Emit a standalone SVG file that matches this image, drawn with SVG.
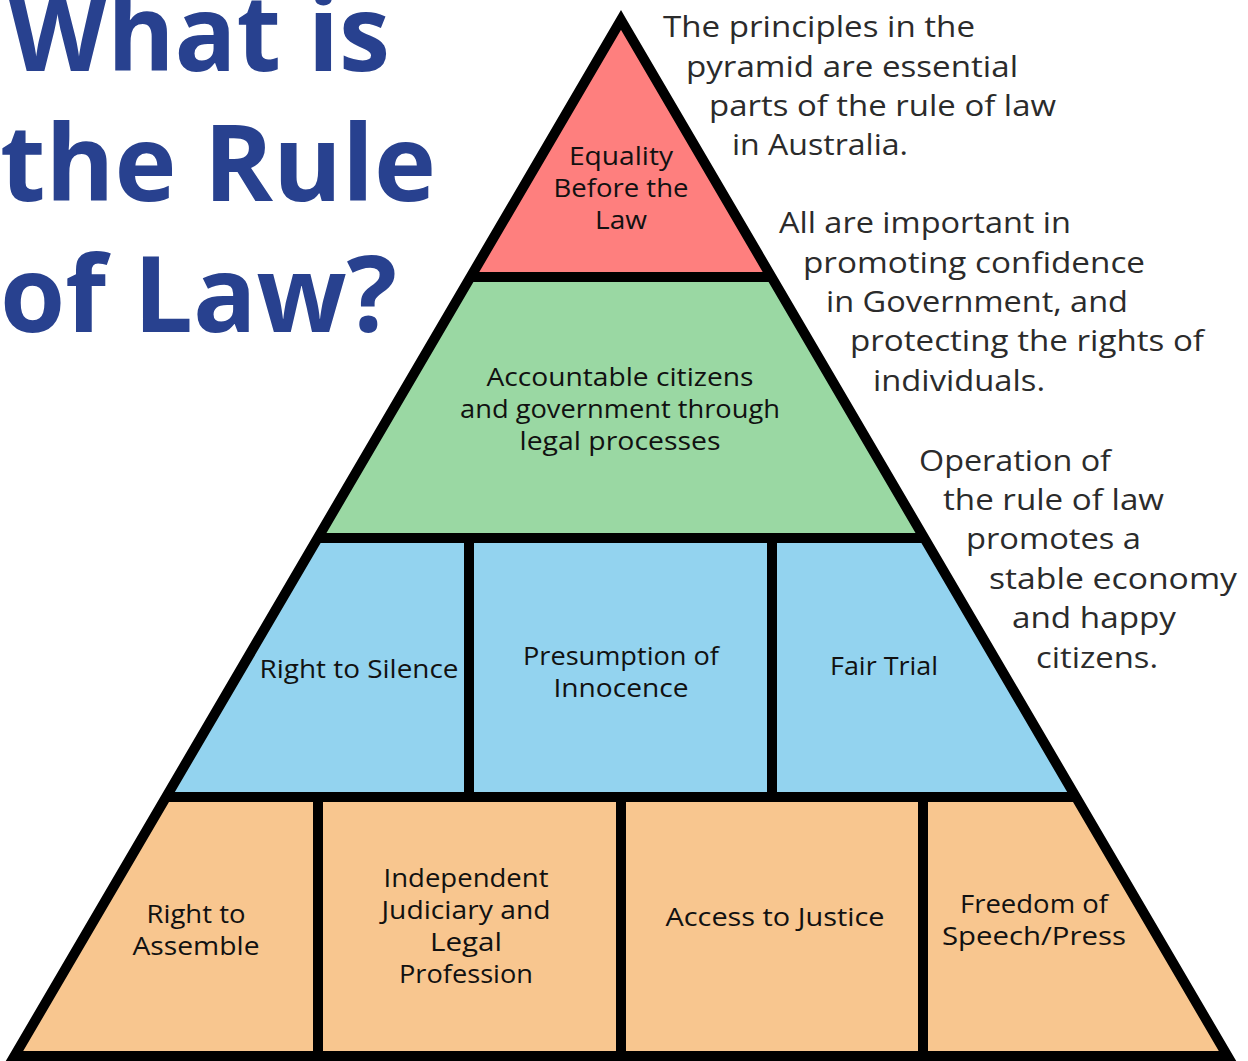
<svg xmlns="http://www.w3.org/2000/svg" width="1248" height="1061" viewBox="0 0 1248 1061">
<style>
.title{font-family:"Open Sans","Noto Sans",sans-serif;font-weight:700;font-size:106px;fill:#28418F}
.note{font-family:"Open Sans","Noto Sans",sans-serif;font-weight:400;font-size:30px;fill:#2b2b2b}
.lbl{font-family:"Open Sans","Noto Sans",sans-serif;font-weight:500;font-size:25px;fill:#111;text-anchor:middle}
.red{fill:#FE7F7E}.green{fill:#9AD8A3}.blue{fill:#93D3EF}.orange{fill:#F8C68F}
.frame{fill:none;stroke:#000;stroke-width:10;stroke-linejoin:miter}
</style>
<rect width="1248" height="1061" fill="#fff"/>
<g id="title">
<text class="title" x="8" y="71" textLength="382" lengthAdjust="spacingAndGlyphs">What is</text>
<text class="title" x="0" y="201" textLength="436" lengthAdjust="spacingAndGlyphs">the Rule</text>
<text class="title" x="0" y="332" textLength="397" lengthAdjust="spacingAndGlyphs">of Law?</text>
</g>
<g id="note1">
<text class="note" x="663" y="37" textLength="312" lengthAdjust="spacingAndGlyphs">The principles in the</text>
<text class="note" x="686" y="77" textLength="332" lengthAdjust="spacingAndGlyphs">pyramid are essential</text>
<text class="note" x="709" y="116" textLength="347" lengthAdjust="spacingAndGlyphs">parts of the rule of law</text>
<text class="note" x="732" y="155" textLength="176" lengthAdjust="spacingAndGlyphs">in Australia.</text>
</g>
<g id="note2">
<text class="note" x="779" y="233" textLength="292" lengthAdjust="spacingAndGlyphs">All are important in</text>
<text class="note" x="803" y="273" textLength="342" lengthAdjust="spacingAndGlyphs">promoting confidence</text>
<text class="note" x="826" y="312" textLength="302" lengthAdjust="spacingAndGlyphs">in Government, and</text>
<text class="note" x="850" y="351" textLength="354" lengthAdjust="spacingAndGlyphs">protecting the rights of</text>
<text class="note" x="873" y="391" textLength="172" lengthAdjust="spacingAndGlyphs">individuals.</text>
</g>
<g id="note3">
<text class="note" x="919" y="471" textLength="192" lengthAdjust="spacingAndGlyphs">Operation of</text>
<text class="note" x="943" y="510" textLength="221" lengthAdjust="spacingAndGlyphs">the rule of law</text>
<text class="note" x="966" y="549" textLength="175" lengthAdjust="spacingAndGlyphs">promotes a</text>
<text class="note" x="989" y="589" textLength="248" lengthAdjust="spacingAndGlyphs">stable economy</text>
<text class="note" x="1012" y="628" textLength="164" lengthAdjust="spacingAndGlyphs">and happy</text>
<text class="note" x="1036" y="668" textLength="122" lengthAdjust="spacingAndGlyphs">citizens.</text>
</g>
<g id="equality">
<polygon class="red" points="621,20 470.5,277 771.5,277"/>
<text class="lbl" x="621" y="165" textLength="104" lengthAdjust="spacingAndGlyphs">Equality</text>
<text class="lbl" x="621" y="197" textLength="135" lengthAdjust="spacingAndGlyphs">Before the</text>
<text class="lbl" x="621" y="229" textLength="52" lengthAdjust="spacingAndGlyphs">Law</text>
</g>
<g id="accountable">
<polygon class="green" points="470.5,277 771.5,277 924.2,538 317.8,538"/>
<text class="lbl" x="620" y="386" textLength="267" lengthAdjust="spacingAndGlyphs">Accountable citizens</text>
<text class="lbl" x="620" y="418" textLength="320" lengthAdjust="spacingAndGlyphs">and government through</text>
<text class="lbl" x="620" y="450" textLength="201" lengthAdjust="spacingAndGlyphs">legal processes</text>
</g>
<g id="silence">
<polygon class="blue" points="317.8,538 469,538 469,797 166.1,797"/>
<text class="lbl" x="359" y="678" textLength="199" lengthAdjust="spacingAndGlyphs">Right to Silence</text>
</g>
<g id="presumption">
<polygon class="blue" points="469,538 772,538 772,797 469,797"/>
<text class="lbl" x="621" y="665" textLength="196" lengthAdjust="spacingAndGlyphs">Presumption of</text>
<text class="lbl" x="621" y="697" textLength="135" lengthAdjust="spacingAndGlyphs">Innocence</text>
</g>
<g id="fairtrial">
<polygon class="blue" points="772,538 924.2,538 1075.9,797 772,797"/>
<text class="lbl" x="884" y="675" textLength="108" lengthAdjust="spacingAndGlyphs">Fair Trial</text>
</g>
<g id="assemble">
<polygon class="orange" points="166.1,797 318,797 318,1056 14.5,1056"/>
<text class="lbl" x="196" y="923" textLength="99" lengthAdjust="spacingAndGlyphs">Right to</text>
<text class="lbl" x="196" y="955" textLength="127" lengthAdjust="spacingAndGlyphs">Assemble</text>
</g>
<g id="judiciary">
<polygon class="orange" points="318,797 621,797 621,1056 318,1056"/>
<text class="lbl" x="466" y="887" textLength="165" lengthAdjust="spacingAndGlyphs">Independent</text>
<text class="lbl" x="466" y="919" textLength="169" lengthAdjust="spacingAndGlyphs">Judiciary and</text>
<text class="lbl" x="466" y="951" textLength="72" lengthAdjust="spacingAndGlyphs">Legal</text>
<text class="lbl" x="466" y="983" textLength="134" lengthAdjust="spacingAndGlyphs">Profession</text>
</g>
<g id="justice">
<polygon class="orange" points="621,797 923,797 923,1056 621,1056"/>
<text class="lbl" x="775" y="926" textLength="219" lengthAdjust="spacingAndGlyphs">Access to Justice</text>
</g>
<g id="freedom">
<polygon class="orange" points="923,797 1075.9,797 1227.5,1056 923,1056"/>
<text class="lbl" x="1034" y="913" textLength="148" lengthAdjust="spacingAndGlyphs">Freedom of</text>
<text class="lbl" x="1034" y="945" textLength="184" lengthAdjust="spacingAndGlyphs">Speech/Press</text>
</g>
<g id="frame">
<polygon class="frame" points="621,20 1227.5,1056 14.5,1056"/>
<line class="frame" x1="470.5" y1="277" x2="771.5" y2="277"/>
<line class="frame" x1="317.8" y1="538" x2="924.2" y2="538"/>
<line class="frame" x1="166.1" y1="797" x2="1075.9" y2="797"/>
<line class="frame" x1="469" y1="538" x2="469" y2="797"/>
<line class="frame" x1="772" y1="538" x2="772" y2="797"/>
<line class="frame" x1="318" y1="797" x2="318" y2="1056"/>
<line class="frame" x1="621" y1="797" x2="621" y2="1056"/>
<line class="frame" x1="923" y1="797" x2="923" y2="1056"/>
</g>
</svg>
